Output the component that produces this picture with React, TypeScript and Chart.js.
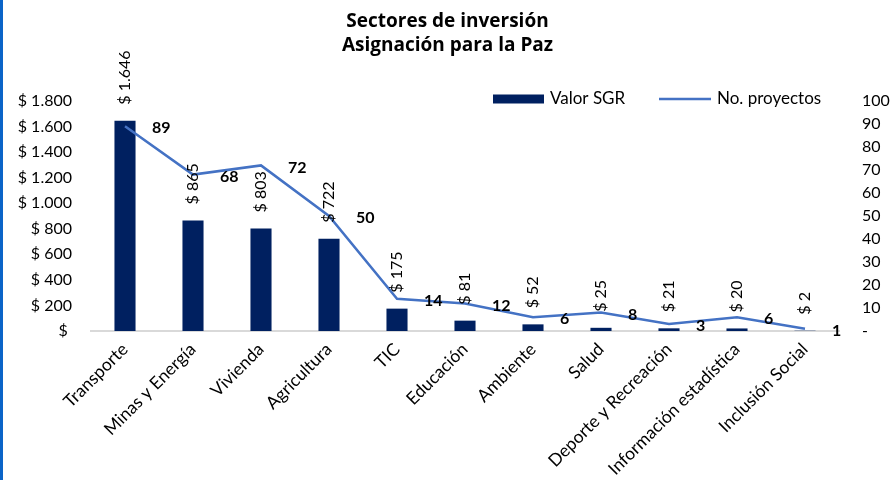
import { useEffect, useRef } from "react";
import { Chart, registerables } from "chart.js";

Chart.register(...registerables);

const categories = [
  "Transporte",
  "Minas y Energía",
  "Vivienda",
  "Agricultura",
  "TIC",
  "Educación",
  "Ambiente",
  "Salud",
  "Deporte y Recreación",
  "Información estadística",
  "Inclusión Social",
];
const valorSGR = [1646, 865, 803, 722, 175, 81, 52, 25, 21, 20, 2];
const proyectos = [89, 68, 72, 50, 14, 12, 6, 8, 3, 6, 1];
const titleLines = ["Sectores de inversión", "Asignación para la Paz"];
const seriesNames = ["Valor SGR", "No. proyectos"];

const BAR_COLOR = "#002060";
const LINE_COLOR = "#4472C4";
const FONT = "Lato";

const thousands = (v: number) => String(v).replace(/\B(?=(\d{3})+(?!\d))/g, ".");
const money = (v: number) => "$ " + thousands(v);

const labelPlugin = {
  id: "valueLabels",
  afterDatasetsDraw(chart: any) {
    const ctx = chart.ctx as CanvasRenderingContext2D;
    ctx.save();
    ctx.fillStyle = "#000";
    ctx.font = `16px ${FONT}`;
    const barMeta = chart.getDatasetMeta(0);
    barMeta.data.forEach((el: any, i: number) => {
      ctx.save();
      ctx.translate(el.x, el.y - 16);
      ctx.rotate(-Math.PI / 2);
      ctx.textAlign = "left";
      ctx.textBaseline = "middle";
      ctx.fillText(money(valorSGR[i]), 0, 0);
      ctx.restore();
    });
    const lineMeta = chart.getDatasetMeta(1);
    ctx.font = `bold 16px ${FONT}`;
    ctx.textAlign = "left";
    ctx.textBaseline = "middle";
    lineMeta.data.forEach((el: any, i: number) => {
      ctx.fillText(String(proyectos[i]), el.x + 27, el.y + 2);
    });
    ctx.restore();
  },
  afterDraw(chart: any) {
    const ctx = chart.ctx as CanvasRenderingContext2D;
    const area = chart.chartArea;
    const y = area.top - 2;
    let x = area.right - 346;
    ctx.save();
    ctx.font = `17px ${FONT}`;
    ctx.textAlign = "left";
    ctx.textBaseline = "middle";
    ctx.fillStyle = BAR_COLOR;
    ctx.fillRect(x, y - 4.5, 51, 9);
    x += 57;
    ctx.fillStyle = "#000";
    ctx.fillText(seriesNames[0], x, y);
    x += 109;
    ctx.strokeStyle = LINE_COLOR;
    ctx.lineWidth = 2.5;
    ctx.beginPath();
    ctx.moveTo(x, y);
    ctx.lineTo(x + 52, y);
    ctx.stroke();
    x += 58;
    ctx.fillText(seriesNames[1], x, y);
    ctx.restore();
  },
};

export default function App() {
  const ref = useRef<HTMLCanvasElement>(null);
  useEffect(() => {
    const canvas = ref.current!;
    const chart = new Chart(canvas, {
      type: "bar",
      data: {
        labels: categories,
        datasets: [
          {
            type: "bar",
            label: seriesNames[0],
            data: valorSGR,
            backgroundColor: BAR_COLOR,
            borderWidth: 0,
            barPercentage: 0.31,
            categoryPercentage: 1,
            yAxisID: "y",
            order: 1,
          },
          {
            type: "line",
            label: seriesNames[1],
            data: proyectos,
            borderColor: LINE_COLOR,
            backgroundColor: LINE_COLOR,
            borderWidth: 2.5,
            pointRadius: 0,
            tension: 0,
            yAxisID: "y1",
            order: 0,
          },
        ],
      } as any,
      options: {
        responsive: false,
        animation: false,
        layout: { padding: { left: 0, right: 0, top: 0, bottom: 0 } },
        plugins: {
          legend: { display: false },
          tooltip: { enabled: false },
          title: {
            display: true,
            text: titleLines,
            color: "#000",
            font: { family: "Open Sans", size: 19, weight: "bold", lineHeight: 1.25 },
            padding: { top: 9.5, bottom: 44 },
          },
        },
        scales: {
          x: {
            grid: { display: false, drawTicks: false },
            border: { display: true, color: "#D9D9D9", width: 2 },
            ticks: {
              autoSkip: false,
              maxRotation: 45,
              minRotation: 45,
              padding: 8,
              color: "#000",
              font: { family: FONT, size: 17.5 },
            },
            afterFit: (s: any) => {
              s.height = 149;
            },
          },
          y: {
            position: "left",
            min: 0,
            max: 1800,
            grid: { display: false, drawTicks: false },
            border: { display: false },
            ticks: {
              stepSize: 200,
              padding: 19,
              color: "#000",
              font: { family: FONT, size: 16 },
              callback: (v: any) => (Number(v) === 0 ? "$ " : money(Number(v))),
            },
            afterFit: (s: any) => {
              s.width = 91;
            },
          },
          y1: {
            position: "right",
            min: 0,
            max: 100,
            grid: { display: false, drawTicks: false },
            border: { display: false },
            ticks: {
              stepSize: 10,
              padding: 23,
              color: "#000",
              font: { family: FONT, size: 16 },
              callback: (v: any) => (Number(v) === 0 ? "-" : String(v)),
            },
            afterFit: (s: any) => {
              s.width = 56;
            },
          },
        },
      } as any,
      plugins: [labelPlugin],
    });
    return () => chart.destroy();
  }, []);

  return (
    <div
      style={{
        position: "absolute",
        left: 0,
        top: 0,
        width: 895,
        height: 480,
        background: "#fff",
        overflow: "hidden",
      }}
    >
      <canvas ref={ref} width={895} height={480} style={{ display: "block" }} />
      <div
        style={{
          position: "absolute",
          left: 0,
          top: 0,
          width: 3,
          height: 480,
          background: "#0A64C8",
        }}
      />
    </div>
  );
}
